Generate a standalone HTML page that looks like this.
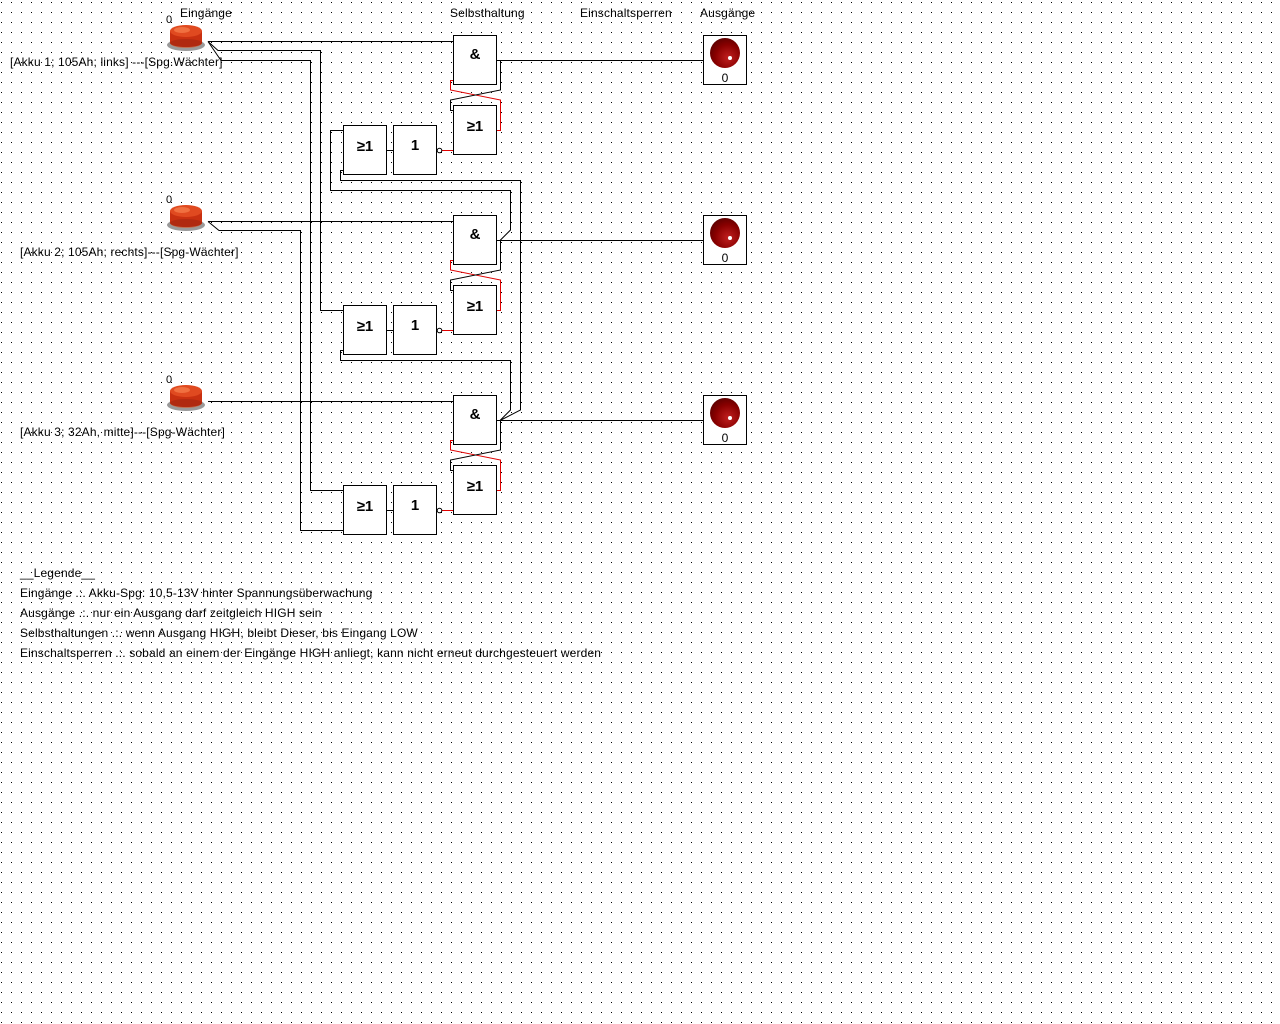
<!DOCTYPE html>
<html><head><meta charset="utf-8"><style>
html,body{margin:0;padding:0;background:#fff;}
svg{display:block;font-family:"Liberation Sans",sans-serif;}
</style></head><body>
<svg width="1280" height="1024" xmlns="http://www.w3.org/2000/svg">
<defs>
<pattern id="g" x="1" y="2" width="10" height="10" patternUnits="userSpaceOnUse"><rect width="1" height="1" fill="#000"/></pattern>
<radialGradient id="led" cx="0.6" cy="0.65" r="0.7"><stop offset="0" stop-color="#c02020"/><stop offset="0.6" stop-color="#8a0000"/><stop offset="1" stop-color="#5a0000"/></radialGradient>
<g id="btn">
<ellipse cx="186" cy="45" rx="19" ry="6" fill="#9a9a9a"/>
<ellipse cx="186" cy="43" rx="16" ry="5" fill="#c07050"/>
<rect x="170" y="31" width="32" height="12" fill="#c83010"/>
<ellipse cx="186" cy="43" rx="16" ry="4" fill="#b02a10"/>
<ellipse cx="186" cy="31" rx="16" ry="6" fill="#e04a20"/>
<ellipse cx="182" cy="30" rx="8" ry="3" fill="#f07040"/>
<text x="166" y="23" font-size="11">0</text>
</g>
<g id="row" fill="none" stroke="#000" stroke-width="1">
<g shape-rendering="crispEdges">
<rect x="453.5" y="35.5" width="43" height="49" fill="#fff"/>
<rect x="453.5" y="105.5" width="43" height="49" fill="#fff"/>
<rect x="343.5" y="125.5" width="43" height="49" fill="#fff"/>
<rect x="393.5" y="125.5" width="43" height="49" fill="#fff"/>
<line x1="386" y1="150.5" x2="393" y2="150.5"/>
<line x1="442" y1="150.5" x2="453" y2="150.5" stroke="#e00000"/>
<line x1="500" y1="60.5" x2="703" y2="60.5"/>
<rect x="703.5" y="35.5" width="43" height="49" fill="#fff"/>
</g>
<circle cx="439.5" cy="150.5" r="2.3"/>
<polyline points="453,80.5 450.5,80.5 450.5,90 500.5,100 500.5,130.5 497,130.5" stroke="#e00000"/>
<polyline points="497,60.5 500.5,60.5 500.5,90 450.5,100 450.5,110.5 453,110.5"/>
<circle cx="725" cy="53" r="15" fill="url(#led)" stroke="none"/>
<circle cx="730" cy="58" r="2" fill="#fff" stroke="none"/>
<g stroke="none" fill="#000">
<text x="475" y="59" font-size="15" font-weight="bold" text-anchor="middle">&amp;</text>
<text x="475" y="131" font-size="15" font-weight="bold" text-anchor="middle">≥1</text>
<text x="365" y="151" font-size="15" font-weight="bold" text-anchor="middle">≥1</text>
<text x="415" y="150" font-size="15" font-weight="bold" text-anchor="middle">1</text>
<text x="725" y="82" font-size="12" text-anchor="middle">0</text>
</g>
</g>
</defs>
<rect width="1280" height="1024" fill="url(#g)"/>
<g font-size="12" fill="#000" letter-spacing="0.15">
<text x="180" y="17">Eingänge</text>
<text x="450" y="17">Selbsthaltung</text>
<text x="580" y="17">Einschaltsperren</text>
<text x="700" y="17">Ausgänge</text>
<text x="10" y="66">[Akku 1; 105Ah; links] ---[Spg.Wächter]</text>
<text x="20" y="256">[Akku 2; 105Ah; rechts]---[Spg-Wächter]</text>
<text x="20" y="436">[Akku 3; 32Ah, mitte]---[Spg-Wächter]</text>
<text x="20" y="577">__Legende__</text>
<text x="20" y="597">Eingänge .:. Akku-Spg: 10,5-13V hinter Spannungsüberwachung</text>
<text x="20" y="617">Ausgänge .:. nur ein Ausgang darf zeitgleich HIGH sein</text>
<text x="20" y="637">Selbsthaltungen .:. wenn Ausgang HIGH, bleibt Dieser, bis Eingang LOW</text>
<text x="20" y="657">Einschaltsperren .:. sobald an einem der Eingänge HIGH anliegt, kann nicht erneut durchgesteuert werden</text>
</g>
<g fill="none" stroke="#000" stroke-width="1">
<line x1="208" y1="41.5" x2="453" y2="41.5"/>
<polyline points="208,41.5 218,50.5 320.5,50.5 320.5,310.5 343,310.5"/>
<polyline points="208,41.5 221,60.5 310.5,60.5 310.5,490.5 343,490.5"/>
<line x1="208" y1="221.5" x2="453" y2="221.5"/>
<polyline points="208,221.5 219,230.5 300.5,230.5 300.5,530.5 343,530.5"/>
<line x1="208" y1="401.5" x2="453" y2="401.5"/>
<polyline points="343,130.5 330.5,130.5 330.5,190.5 510.5,190.5 510.5,230 500,240.5"/>
<polyline points="343,170.5 340.5,170.5 340.5,180.5 520.5,180.5 520.5,410 500,420.5"/>
<polyline points="343,350.5 340.5,350.5 340.5,360.5 510.5,360.5 510.5,410 500,420.5"/>
</g>
<use href="#btn"/>
<use href="#btn" y="180"/>
<use href="#btn" y="360"/>
<use href="#row"/>
<use href="#row" y="180"/>
<use href="#row" y="360"/>
</svg>
</body></html>
